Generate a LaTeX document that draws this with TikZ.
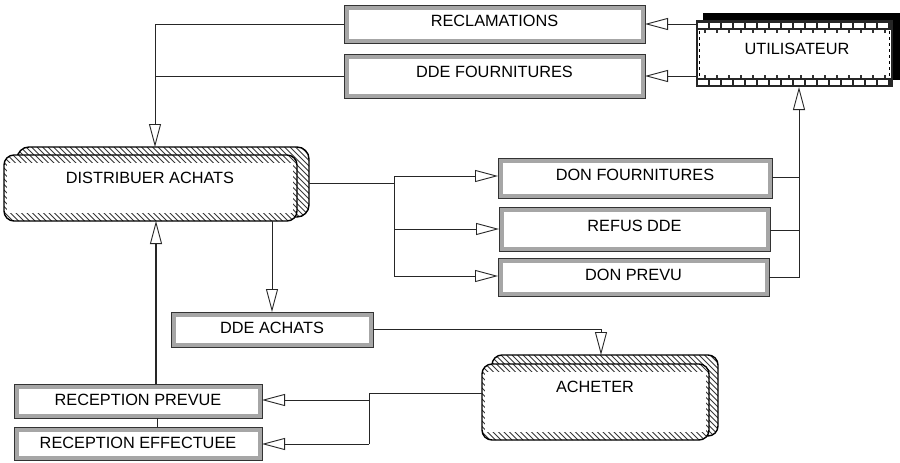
\documentclass[tikz,border=0pt]{standalone}
\usepackage{fontspec}
\setmainfont{Liberation Sans}
\usetikzlibrary{arrows.meta}
\newcommand{\gbox}[7]{%
  \node[gb, minimum width={#4-#2}, minimum height={#5-#3}, anchor=north west] (#1) at (#2,#3) {};
  \fill[white] ([shift={(4.5,4.5)}]#1.north west) rectangle ([shift={(-4.5,-4.5)}]#1.south east);
  \node[txt] at ({(#2+#4)/2},#7) {#6};
}
\newcommand{\hatchfill}[5]{%
  \begin{scope}
    \clip[rounded corners=#5] (#1,#2) rectangle (#3,#4);
    \fill[white] (#1,#2) rectangle (#3,#4);
    \foreach \hk in {0,...,80} \draw[hatch] ({#1-90+5.5*\hk},#2) -- ++(90,90);
  \end{scope}
}
\begin{document}
\begin{tikzpicture}[x=1pt,y=-1pt,
  gb/.style={draw=black!80, fill=gray!70, line width=1pt, inner sep=0, outer sep=0},
  txt/.style={font=\fontsize{16.3}{18}\selectfont, inner sep=0},
  ln/.style={draw=black!85, line width=0.9pt},
  arr/.style={-{Triangle[open,length=23pt,width=12pt,line width=0.9pt]}},
  hatch/.style={draw=black!78, line width=0.9pt},
  outl/.style={draw=black, line width=1.4pt, inner sep=0, outer sep=0, anchor=north west}
]
\useasboundingbox (0,0) rectangle (900,463);
\fill[white] (0,0) rectangle (900,463);

% rectangular flows
\gbox{recl}{344}{5}{645}{43}{RECLAMATIONS}{21}
\gbox{ddef}{344}{54}{645}{98}{DDE FOURNITURES}{72}
\gbox{donf}{498}{158}{772}{198}{DON FOURNITURES}{175}
\gbox{refus}{499}{207}{770}{251}{REFUS DDE}{226}
\gbox{donp}{498}{258}{769}{296}{DON PREVU}{275}
\gbox{ddea}{171}{312}{373}{347}{DDE ACHATS}{328}
\gbox{recp}{14}{384}{262}{418}{RECEPTION PREVUE}{400}
\gbox{rece}{14}{427}{262}{460}{RECEPTION EFFECTUEE}{443}

% UTILISATEUR
\fill[black] (703,13) rectangle (900,80);
\fill[black!85] (696,20) rectangle (893,87);
\foreach \k in {0,...,15} {
  \fill[white] ({698+12*\k},22.5) rectangle ++(9.5,5);
  \fill[white] ({698+12*\k},80) rectangle ++(9.5,5);
}
\fill[white] (698,30) rectangle (891,77.5);
\foreach \k in {0,...,15} {
  \fill[black!80] ({704+12*\k},30) rectangle ++(1.5,3);
  \fill[black!80] ({704+12*\k},74.5) rectangle ++(1.5,3);
}
\draw[black, line width=1.2pt, dash pattern=on 3pt off 3pt] (699.5,31) -- (699.5,77);
\draw[black, line width=1.2pt, dash pattern=on 3pt off 3pt] (889.5,31) -- (889.5,77);
\node[inner sep=0, outer sep=0, minimum width=197, minimum height=67, anchor=north west] (util) at (696,20) {};
\node[txt] at (797,49) {UTILISATEUR};

% DISTRIBUER ACHATS
\hatchfill{17}{147}{309}{217}{12}
\node[outl, rounded corners=12, minimum width=292, minimum height=70] (distB) at (17,147) {};
\hatchfill{4}{155}{297}{221}{10}
\fill[white] (7,163) rectangle (293,213);
\node[outl, rounded corners=10, minimum width=293, minimum height=66] (distrib) at (4,155) {};
\node[txt] at (150,178) {DISTRIBUER ACHATS};

% ACHETER
\hatchfill{492}{355}{718}{436}{10}
\node[outl, rounded corners=10, minimum width=226, minimum height=81] (achB) at (492,355) {};
\hatchfill{482}{364}{709}{440}{10}
\fill[white] (485,372) rectangle (706,432);
\node[outl, rounded corners=10, minimum width=227, minimum height=76] (achat) at (482,364) {};
\node[txt] at (595,387) {ACHETER};

% connectors
\draw[ln,arr] (util.west |- 0,24) -- (recl.east |- 0,24);
\draw[ln,arr] (util.west |- 0,76) -- (ddef.east |- 0,76);
\draw[ln,arr] (recl.west |- 0,24) -- (155,24) -- (155,0 |- distB.north);
\draw[ln] (ddef.west |- 0,76) -- (155,76);

\draw[ln] (distB.east |- 0,183) -- (394,183);
\draw[ln] (394,176) -- (394,276);
\draw[ln,arr] (394,176) -- (donf.west |- 0,176);
\draw[ln,arr] (394,229) -- (refus.west |- 0,229);
\draw[ln,arr] (394,276) -- (donp.west |- 0,276);

\draw[ln] (donf.east |- 0,177) -- (799,177);
\draw[ln] (refus.east |- 0,230) -- (799,230);
\draw[ln,arr] (donp.east |- 0,277) -- (799,277) -- (799,0 |- util.south);

\draw[ln,arr] (272,0 |- distrib.south) -- (272,0 |- ddea.north);
\draw[ln,arr] (ddea.east |- 0,329) -- (601,329) -- (601,0 |- achB.north);

\draw[ln] (achat.west |- 0,393) -- (369,393) -- (369,444);
\draw[ln,arr] (369,400) -- (recp.east |- 0,400);
\draw[ln,arr] (369,444) -- (rece.east |- 0,444);

\draw[ln,arr,line width=2pt] (156,0 |- recp.north) -- (156,0 |- distrib.south);
\draw[ln] (157,0 |- rece.north) -- (157,0 |- recp.south);
\end{tikzpicture}
\end{document}
